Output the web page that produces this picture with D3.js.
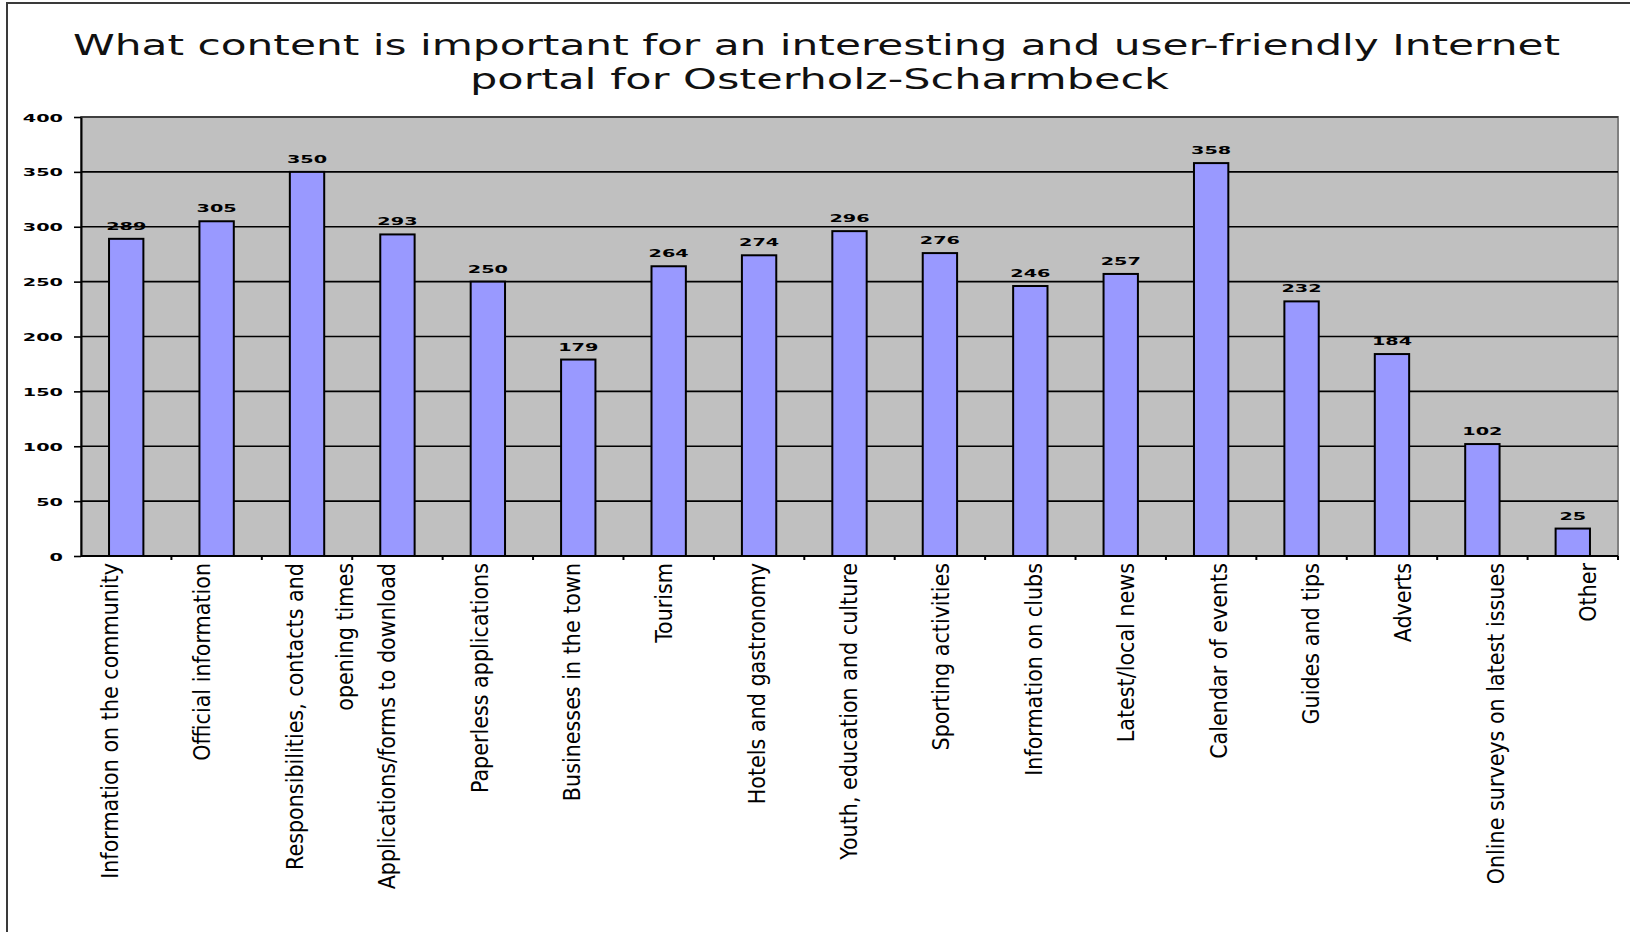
<!DOCTYPE html>
<html>
<head>
<meta charset="utf-8">
<script src="https://cdn.jsdelivr.net/npm/d3@7"></script>
<style>
  body { margin: 0; background: #fff; }
  svg { display: block; font-family: "DejaVu Sans", sans-serif; }
</style>
</head>
<body>
<div id="chart"></div>
<script>
// chart data
const titleLines = [
  "What content is important for an interesting and user-friendly Internet",
  "portal for Osterholz-Scharmbeck"
];
const categories = [
  "Information on the community",
  "Official information",
  "Responsibilities, contacts and\nopening times",
  "Applications/forms to download",
  "Paperless applications",
  "Businesses in the town",
  "Tourism",
  "Hotels and gastronomy",
  "Youth, education and culture",
  "Sporting activities",
  "Information on clubs",
  "Latest/local news",
  "Calendar of events",
  "Guides and tips",
  "Adverts",
  "Online surveys on latest issues",
  "Other"
];
const values = [289, 305, 350, 293, 250, 179, 264, 274, 296, 276, 246, 257, 358, 232, 184, 102, 25];
const yTicks = [0, 50, 100, 150, 200, 250, 300, 350, 400];

// layout helpers
const width  = 1630;
const height = 932;
const plot   = {left: 81, right: 1618, top: 117, bottom: 556};

const svg = d3.select('#chart')
  .append('svg')
  .attr('width', width)
  .attr('height', height);

// outer frame (only left and top edges fall inside the picture)
svg.append('rect')
  .attr('x', 7).attr('y', 3)
  .attr('width', 1800).attr('height', 1200)
  .attr('fill', 'none')
  .attr('stroke', '#3a3a3a')
  .attr('stroke-width', 2);

// title
svg.append('g')
  .selectAll('text')
  .data(titleLines)
  .join('text')
  .attr('x', (d, i) => i === 0 ? 73 : 470)
  .attr('y', (d, i) => i === 0 ? 55 : 89)
  .attr('textLength', (d, i) => i === 0 ? 1487 : 699)
  .attr('lengthAdjust', 'spacingAndGlyphs')
  .style('font-size', '29px')
  .attr('fill', '#111')
  .text(d => d);

const x = d3.scaleBand()
  .domain(categories)
  .range([plot.left, plot.right])
  .paddingInner(0.62)
  .paddingOuter(0.31);

// category labels sit on a slightly wider spacing than the bars
const xLabel = d3.scalePoint()
  .domain(categories)
  .range([118, 1596]);

const y = d3.scaleLinear()
  .domain([0, 400])
  .range([plot.bottom, plot.top]);

// plot background
svg.append('rect')
  .attr('x', plot.left)
  .attr('y', plot.top)
  .attr('width', plot.right - plot.left)
  .attr('height', plot.bottom - plot.top)
  .attr('fill', '#c0c0c0')
  .attr('stroke', '#808080')
  .attr('stroke-width', 2);

// gridlines
svg.append('g')
  .selectAll('line')
  .data(yTicks.filter(d => d > 0 && d < 400))
  .join('line')
  .attr('x1', plot.left)
  .attr('x2', plot.right)
  .attr('y1', d => y(d))
  .attr('y2', d => y(d))
  .attr('stroke', '#000')
  .attr('stroke-width', 1.6);

svg.append('line')
  .attr('x1', plot.left).attr('x2', plot.right)
  .attr('y1', y(400)).attr('y2', y(400))
  .attr('stroke', '#404040')
  .attr('stroke-width', 2.2);

// bars
svg.append('g')
  .selectAll('rect')
  .data(values)
  .join('rect')
  .attr('x', (d, i) => x(categories[i]))
  .attr('y', d => y(d))
  .attr('width', x.bandwidth())
  .attr('height', d => y(0) - y(d))
  .attr('fill', '#9999ff')
  .attr('stroke', '#000')
  .attr('stroke-width', 2);

// value labels
svg.append('g')
  .selectAll('text')
  .data(values)
  .join('text')
  .attr('text-anchor', 'middle')
  .attr('transform', (d, i) =>
    'translate(' + (x(categories[i]) + x.bandwidth() / 2) + ',' + (y(d) - 9) + ') scale(1.75,1)')
  .style('font-size', '11px')
  .style('font-weight', 'bold')
  .attr('fill', '#000')
  .text(d => d);

// y axis
const yAxis = svg.append('g')
  .attr('transform', 'translate(' + plot.left + ',0)')
  .call(d3.axisLeft(y).tickValues(yTicks).tickSize(7).tickSizeOuter(0));

yAxis.select('.domain').attr('stroke', '#000').attr('stroke-width', 2);
yAxis.selectAll('.tick line').attr('stroke', '#000').attr('stroke-width', 1.6);
yAxis.selectAll('.tick text')
  .attr('x', null)
  .attr('dy', null)
  .attr('transform', 'translate(-18,4) scale(1.75,1)')
  .style('font-size', '11px')
  .style('font-weight', 'bold')
  .style('font-family', '"DejaVu Sans", sans-serif')
  .attr('fill', '#000');

// x axis line with ticks between categories
svg.append('line')
  .attr('x1', plot.left).attr('x2', plot.right)
  .attr('y1', plot.bottom).attr('y2', plot.bottom)
  .attr('stroke', '#000')
  .attr('stroke-width', 2);

svg.append('g')
  .selectAll('line')
  .data(categories)
  .join('line')
  .attr('x1', d => x(d) - x.step() * x.paddingOuter() + x.step())
  .attr('x2', d => x(d) - x.step() * x.paddingOuter() + x.step())
  .attr('y1', plot.bottom)
  .attr('y2', plot.bottom + 4)
  .attr('stroke', '#000')
  .attr('stroke-width', 2);

// rotated category labels
const labels = svg.append('g')
  .selectAll('text')
  .data(categories)
  .join('text')
  .attr('transform', d => 'translate(' + xLabel(d) + ',563) rotate(-90)')
  .attr('text-anchor', 'end')
  .style('font-size', '23px')
  .style('font-stretch', 'condensed')
  .attr('fill', '#000');

labels.selectAll('tspan')
  .data(d => d.split('\n'))
  .join('tspan')
  .attr('x', 0)
  .attr('y', (d, i) => i * 50)
  .text(d => d);
</script>
</body>
</html>
